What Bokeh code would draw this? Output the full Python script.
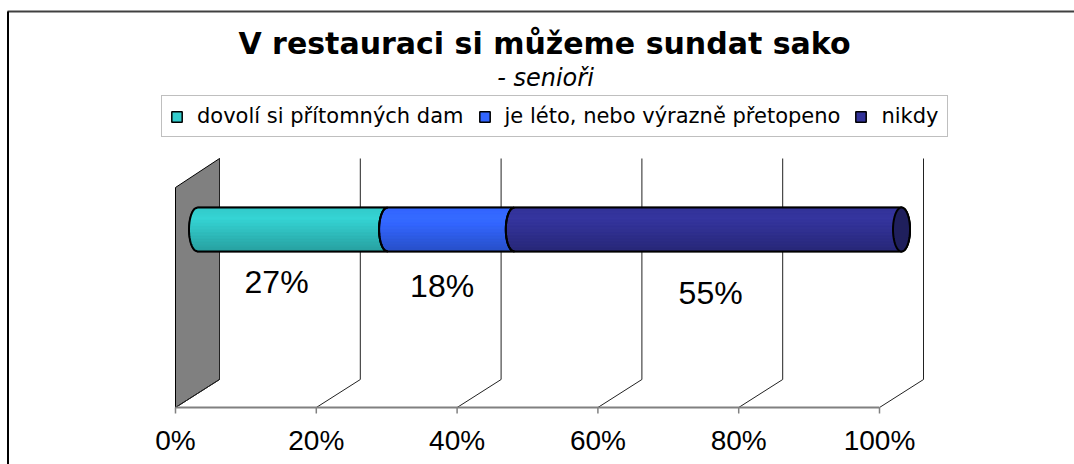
import numpy as np
from bokeh.plotting import figure
from bokeh.models import Range1d, Legend, LegendItem
from bokeh.core.properties import value
from bokeh.embed import file_html
from bokeh.resources import INLINE

# ---------------- data ----------------
title_text = "V restauraci si můžeme sundat sako"
subtitle_text = "- senioři"
categories = ["dovolí si přítomných dam", "je léto, nebo výrazně přetopeno", "nikdy"]
shares = [27, 18, 55]
share_labels = ["27%", "18%", "55%"]
ticks = [0, 20, 40, 60, 80, 100]
tick_labels = ["0%", "20%", "40%", "60%", "80%", "100%"]
colors = ["#33CCCC", "#3366FF", "#333399"]

# ---------------- layout constants (canvas pixels) ----------------
W, H = 1074, 464
X0 = 175.0          # canvas x of 0 %
PX = 7.04           # pixels per percent
def cx(c):          # canvas x pixel -> percent units
    return (c - X0) / PX
def dx(px):         # pixel length -> percent units
    return px / PX

AXIS_Y = 407        # front floor line
DEPTH_X = dx(44)    # depth offset (x)
DEPTH_Y = 28        # depth offset (y)
BACK_TOP = 158
WALL_FRONT_TOP = 187
BAR_CY, BAR_RY, BAR_RX = 229, 22, dx(8.5)
BAR_OFF = DEPTH_X / 2

p = figure(width=W, height=H, x_range=Range1d(-X0 / PX, (W - X0) / PX),
           y_range=Range1d(H, 0), output_backend="svg", toolbar_location=None,
           title=None, x_axis_type=None, y_axis_type=None, min_border=0,
           outline_line_color=None, background_fill_color="white",
           border_fill_color="white")

# outer chart border
p.line([cx(7), cx(W)], [11, 11], line_color="#404040", line_width=2)
p.line([cx(7.5), cx(7.5)], [11, H], line_color="#000000", line_width=2)

# side wall
p.patch([0, DEPTH_X, DEPTH_X, 0],
        [WALL_FRONT_TOP, BACK_TOP, AXIS_Y - DEPTH_Y, AXIS_Y],
        fill_color="#808080", line_color="#000000", line_width=1)

# back gridlines + floor diagonals
gx, gy = [], []
for t in ticks:
    gx.append([t + DEPTH_X, t + DEPTH_X]); gy.append([BACK_TOP, AXIS_Y - DEPTH_Y])
    gx.append([t, t + DEPTH_X]); gy.append([AXIS_Y, AXIS_Y - DEPTH_Y])
p.multi_line(gx, gy, line_color="#222222", line_width=1)

# axis line and ticks
p.line([ticks[0], ticks[-1]], [AXIS_Y, AXIS_Y], line_color="#808080", line_width=2)
p.multi_line([[t, t] for t in ticks], [[AXIS_Y, AXIS_Y + 6] for _ in ticks],
             line_color="#808080", line_width=1.5)
p.text(x=ticks, y=[440] * len(ticks), text=tick_labels,
       text_font=value("Liberation Sans"), text_font_size="28px",
       text_align="center", text_baseline="middle", text_color="#000000")

# ---------------- cylinder bar ----------------
def arc(xc, ya, yb, side, n=40):
    ys = np.linspace(ya, yb, n)
    r = np.sqrt(np.clip(1 - ((ys - BAR_CY) / BAR_RY) ** 2, 0, None))
    return list(xc + side * BAR_RX * r), list(ys)

def shade(hexc, f):
    h = hexc.lstrip("#")
    rgb = [int(h[i:i + 2], 16) for i in (0, 2, 4)]
    rgb = [max(0, min(255, int(round(c * f)))) for c in rgb]
    return "#%02x%02x%02x" % tuple(rgb)

starts = np.cumsum([0] + shares[:-1])
ends = np.cumsum(shares)
top, bot = BAR_CY - BAR_RY, BAR_CY + BAR_RY
legend_items = []
outline_x, outline_y = [], []
for i, (s, e) in enumerate(zip(starts, ends)):
    x0 = s + BAR_OFF
    x1 = e + BAR_OFF
    rside = 1 if i == len(shares) - 1 else -1
    lx, ly = arc(x0, top, bot, -1)
    rx_, ry_ = arc(x1, bot, top, rside)
    sx, sy = lx + rx_, ly + ry_
    r = p.patch(sx, sy, fill_color=colors[i], line_color="#000000", line_width=1.5)
    legend_items.append(LegendItem(label=categories[i], renderers=[r]))
    nb = 14
    edges = np.linspace(top, bot, nb + 1)
    bxs, bys, bcs = [], [], []
    for k in range(nb):
        ya, yb = edges[k], edges[k + 1]
        t = (k + 0.5) / nb
        f = 1.04 - 0.05 * abs(t - 0.25) * 4 if t < 0.25 else 1.04 - 0.26 * (t - 0.25) / 0.75
        ax, ay = arc(x0, ya, yb, -1, 8)
        bx, by = arc(x1, yb, ya, rside, 8)
        bxs.append(ax + bx); bys.append(ay + by); bcs.append(shade(colors[i], f))
    p.patches(bxs, bys, fill_color=bcs, line_color=bcs, line_width=0.5)
    outline_x.append(sx + [sx[0]]); outline_y.append(sy + [sy[0]])

p.multi_line(outline_x, outline_y, line_color="#000000", line_width=2)
th = np.linspace(0, 2 * np.pi, 80)
capx = list(ends[-1] + BAR_OFF + BAR_RX * np.cos(th))
capy = list(BAR_CY + BAR_RY * np.sin(th))
p.patch(capx, capy, fill_color="#1f1f5c", line_color="#000000", line_width=2)

# percentage labels (perspective: drift to the right and down along the bar)
mids = [s + v / 2 for s, v in zip(starts, shares)]
lab_x = [m * 1.045 + 0.25 for m in mids]
p.text(x=lab_x, y=[279 + 0.18 * c for c in lab_x], text=share_labels,
       text_font=value("Liberation Sans"), text_font_size="32px",
       text_align="center", text_baseline="middle", text_color="#000000")

# titles
p.text(x=[cx(544)], y=[43], text=[title_text], text_font=value("DejaVu Sans"),
       text_font_style="bold", text_font_size="30px", text_align="center",
       text_baseline="middle", text_color="#000000")
p.text(x=[cx(545)], y=[77], text=[subtitle_text], text_font=value("DejaVu Sans"),
       text_font_style="italic", text_font_size="24px", text_align="center",
       text_baseline="middle", text_color="#000000")

# legend
legend = Legend(items=legend_items, location=(161, H - 137), orientation="horizontal",
                padding=8, spacing=14, label_standoff=14, glyph_width=13, glyph_height=13,
                label_text_font="DejaVu Sans", label_text_font_size="21px",
                label_text_color="#000000",
                border_line_color="#808080", border_line_width=1.5,
                background_fill_color="white", background_fill_alpha=1.0, margin=0)
p.add_layout(legend)

open("out.html", "w").write(file_html(p, INLINE))
